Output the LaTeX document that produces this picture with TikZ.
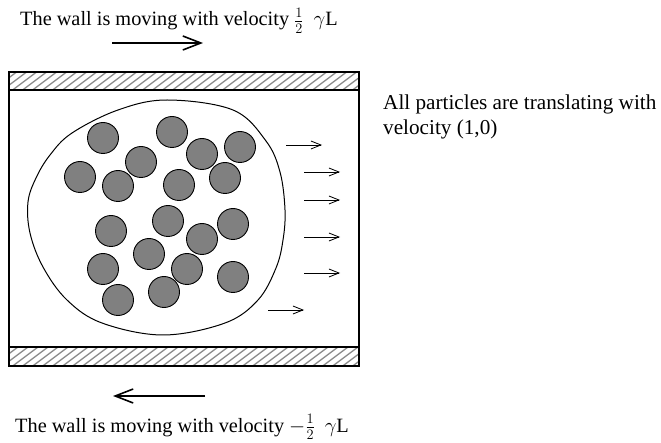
\documentclass[tikz,border=0pt]{standalone}
\usepackage{fontspec}
\setmainfont{Liberation Serif}
\usetikzlibrary{arrows.meta}
\definecolor{grainGrey}{HTML}{808080}
\definecolor{hatchGrey}{HTML}{8a8a8a}

\begin{document}
\begin{tikzpicture}[x=1pt, y=-1pt,
        grain/.style={circle, draw=black, line width=0.9pt, fill=grainGrey,
                      minimum size=31pt, inner sep=0pt},
        wall/.style={draw=black, line width=1.1pt},
        hatch/.style={hatchGrey, line width=1.3pt},
        flow/.style={line width=0.8pt, -{Straight Barb[length=10pt, width=8pt]}},
        push/.style={line width=2pt, -{Straight Barb[length=18pt, width=14pt, line width=1.6pt]}},
        note/.style={font=\fontsize{20.3}{24}\selectfont, inner sep=0pt, anchor=base west}]
        \useasboundingbox (0,0) rectangle (661,443);
        % channel with the two moving walls
        \begin{scope}
          \clip (9,72) rectangle (359,90);
          \foreach \x in {-40,-30,...,360} \draw[hatch] (\x,92) -- ++(28,-21);
        \end{scope}
        \begin{scope}
          \clip (9,347) rectangle (359,366);
          \foreach \x in {-40,-30,...,360} \draw[hatch] (\x,368) -- ++(28,-21);
        \end{scope}
        \draw[wall] (9,72) rectangle (359,366);
        \draw[wall] (9,90) -- (359,90);
        \draw[wall] (9,347) -- (359,347);
        % the cluster
        \draw[line width=1pt] plot[smooth cycle, tension=0.6] coordinates {
          (167,100) (233,110) (266,141) (280,172) (285,210) (283,240)
          (276,268) (258,300) (225,323) (163,335) (102,323) (67,300)
          (43,267) (30,233) (28,202) (36,178) (50,155) (72,133) (118,110)};
        \foreach \x/\y [count=\i] in {103/138, 172/132, 202/154, 240/147, 141/162,
            80/177, 118/186, 179/185, 225/178, 111/231, 168/221, 202/239, 233/224,
            149/254, 103/269, 187/269, 233/277, 118/300, 164/292}
          \node[grain] (g\i) at (\x,\y) {};
        % translation arrows
        \foreach \xa/\xb/\y [count=\i] in {286/322/145, 304/340/172, 304/340/200,
            304/340/237, 304/340/273, 268/304/310} {
          \coordinate (v\i a) at (\xa,\y);
          \coordinate (v\i b) at (\xb,\y);
          \draw[flow] (v\i a) -- (v\i b);
        }
        % wall velocities
        \coordinate (topA) at (112,43);
        \coordinate (topB) at (203,43);
        \coordinate (botA) at (205,396);
        \coordinate (botB) at (113,396);
        \draw[push] (topA) -- (topB);
        \draw[push] (botA) -- (botB);
        \node[note] (topText) at (20,26) {The wall is moving with velocity $\frac{1}{2}\hspace{10pt}\gamma$L};
        \node[note] (botText) at (15,432) {The wall is moving with velocity $-\frac{1}{2}\hspace{10pt}\gamma$L};
        \node[note, font=\fontsize{21.2}{24}\selectfont] (note1) at (383,110) {All particles are translating with};
        \node[note, font=\fontsize{21.2}{24}\selectfont] (note2) at (383,135) {velocity (1,0)};
      \end{tikzpicture}
\end{document}
